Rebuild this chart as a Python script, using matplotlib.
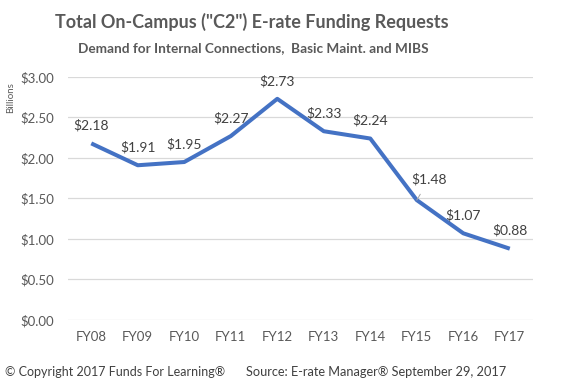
import matplotlib
matplotlib.use('Agg')
import matplotlib.pyplot as plt

plt.rcParams['font.family'] = ['Lato', 'DejaVu Sans']

years = ['FY08', 'FY09', 'FY10', 'FY11', 'FY12', 'FY13', 'FY14', 'FY15', 'FY16', 'FY17']
requests = [2.18, 1.91, 1.95, 2.27, 2.73, 2.33, 2.24, 1.48, 1.07, 0.88]
yticks = [0.0, 0.5, 1.0, 1.5, 2.0, 2.5, 3.0]

gray = '#595959'
fig = plt.figure(figsize=(5.64, 3.92), dpi=100)
ax = fig.add_axes([0.1206, 0.1837, 0.8245, 0.62])

x = list(range(len(years)))
ax.plot(x, requests, color='#4472C4', lw=2.9, solid_joinstyle='round', solid_capstyle='butt', zorder=3)

ax.set_xlim(-0.5, len(years) - 0.5)
ax.set_ylim(0, 3.0)
ax.set_yticks(yticks)
ax.set_yticklabels(['$%.2f' % v for v in yticks])
ax.set_xticks(x)
ax.set_xticklabels(years)
ax.tick_params(length=0, labelsize=9.5, colors=gray, pad=6)
ax.tick_params(axis='y', pad=10)
ax.tick_params(axis='x', pad=8)
ax.grid(axis='y', color='#D9D9D9', lw=0.9)
ax.set_axisbelow(True)
for s in ax.spines.values():
    s.set_visible(False)

for i, v in enumerate(requests):
    if years[i] == 'FY15':
        ax.annotate('$%.2f' % v, (i, v), xytext=(9, 15), textcoords='offset points',
                    ha='center', va='center', fontsize=10, color='#404040',
                    arrowprops=dict(arrowstyle='-', color='#A6A6A6', lw=0.7,
                                    shrinkA=5, shrinkB=0))
    else:
        ax.annotate('$%.2f' % v, (i, v), xytext=(0, 13), textcoords='offset points',
                    ha='center', va='center', fontsize=10, color='#404040')

fig.text(0.019, 0.75, 'Billions', rotation=90, ha='center', va='center', fontsize=7, color=gray)

fig.text(0.447, 0.944, 'Total On-Campus ("C2") E-rate Funding Requests', ha='center', va='center',
         fontsize=13, fontweight='bold', color=gray)
fig.text(0.449, 0.878, 'Demand for Internal Connections,  Basic Maint. and MIBS', ha='center', va='center',
         fontsize=9.8, fontweight='bold', color=gray)

fig.text(0.009, 0.051, '\u00a9 Copyright 2017 Funds For Learning\u00ae', ha='left', va='center',
         fontsize=9, color='#404040')
fig.text(0.437, 0.051, 'Source: E-rate Manager\u00ae September 29, 2017', ha='left', va='center',
         fontsize=9.2, color='#404040')

fig.savefig('out.png', dpi=100, facecolor='white')
